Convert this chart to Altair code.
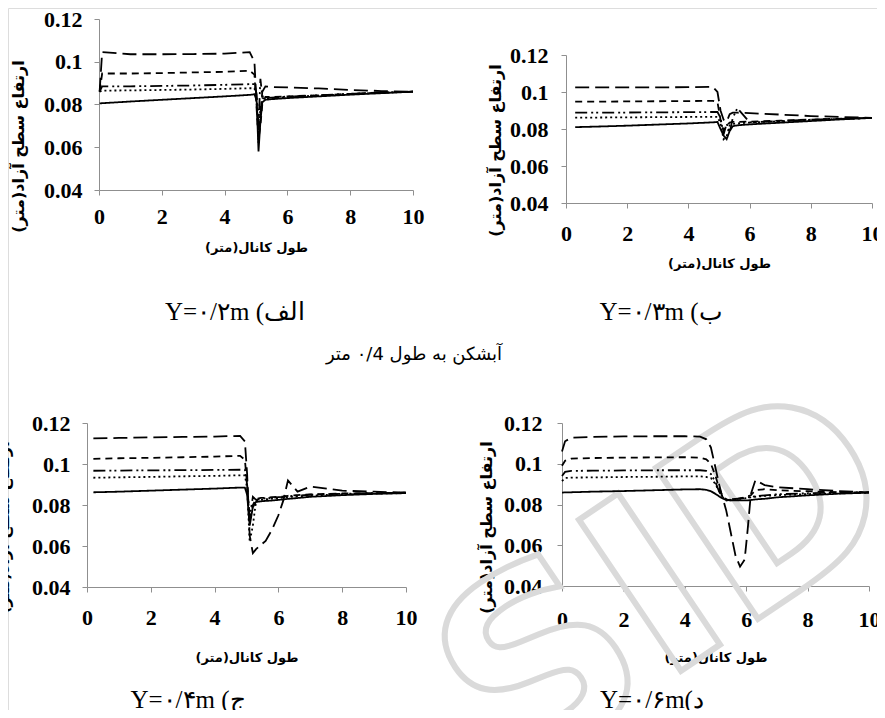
import altair as alt
import pandas as pd

SERIES = ["long_dash", "dash", "dash_dot_dot", "dotted", "solid"]
DASHES = [[14, 6], [7, 5], [12, 4, 2, 3, 2, 4], [2, 3], [1, 0]]
WIDTHS = [1.8, 1.8, 1.6, 2.6, 1.6]

X_TITLE = "طول کانال(متر)\u200f"
Y_TITLE = "ارتفاع سطح آزاد(متر)\u200f"
CAPTION_A = "Y=۰/۲m (الف"
CAPTION_B = "Y=۰/۳m (ب"
CAPTION_C = "Y=۰/۴m (ج"
CAPTION_D = "Y=۰/۶m(د"
CENTER_TEXT = "آبشکن به طول ۰/4 متر"
WATERMARK = "SID"

X_TICKS = [0, 2, 4, 6, 8, 10]
Y_TICKS = [0.04, 0.06, 0.08, 0.1, 0.12]

# ---------------- Panel A (Y = 0.2 m) ----------------
a_x = [0.02, 0.1, 1, 2, 3, 4, 4.8, 4.95, 5.02, 5.08, 5.14, 5.2, 5.3, 5.5, 6, 7, 8, 9, 10]
a_long = [0.086, 0.1045, 0.1035, 0.1035, 0.1036, 0.1038, 0.1045, 0.100, 0.080, 0.068, 0.075, 0.086, 0.0885, 0.0882, 0.0880, 0.0875, 0.0868, 0.0863, 0.0860]
a_dash = [0.086, 0.0945, 0.0945, 0.0947, 0.0950, 0.0953, 0.0958, 0.0940, 0.078, 0.064, 0.070, 0.080, 0.0835, 0.0835, 0.0838, 0.0843, 0.0850, 0.0856, 0.0860]
a_dashdot = [0.086, 0.0885, 0.0885, 0.0887, 0.0889, 0.0892, 0.0895, 0.0895, 0.085, 0.070, 0.092, 0.084, 0.0830, 0.0832, 0.0837, 0.0843, 0.0850, 0.0855, 0.0860]
a_dot = [0.086, 0.0865, 0.0866, 0.0868, 0.0870, 0.0873, 0.0876, 0.0876, 0.084, 0.062, 0.078, 0.083, 0.0828, 0.0830, 0.0835, 0.0842, 0.0849, 0.0855, 0.0860]
a_solid = [0.0805, 0.0806, 0.0814, 0.0822, 0.0830, 0.0838, 0.0845, 0.0848, 0.082, 0.058, 0.072, 0.081, 0.0822, 0.0825, 0.0830, 0.0838, 0.0846, 0.0853, 0.0860]

# ---------------- Panel B (Y = 0.3 m) ----------------
b_x = [0.3, 1, 2, 3, 4, 4.8, 4.95, 5.05, 5.15, 5.25, 5.35, 5.45, 5.6, 6, 7, 8, 9, 10]
b_long = [0.1025, 0.1025, 0.1025, 0.1025, 0.1026, 0.1028, 0.1000, 0.090, 0.085, 0.084, 0.088, 0.0888, 0.0888, 0.0886, 0.0878, 0.0870, 0.0865, 0.0860]
b_dash = [0.0948, 0.0948, 0.0949, 0.0950, 0.0951, 0.0952, 0.0945, 0.085, 0.079, 0.082, 0.0835, 0.0838, 0.0838, 0.0840, 0.0845, 0.0851, 0.0856, 0.0860]
b_dashdot = [0.0888, 0.0888, 0.0889, 0.0890, 0.0891, 0.0892, 0.0892, 0.086, 0.077, 0.083, 0.078, 0.086, 0.0913, 0.0836, 0.0843, 0.0850, 0.0855, 0.0860]
b_dot = [0.0862, 0.0862, 0.0863, 0.0864, 0.0865, 0.0866, 0.0866, 0.083, 0.0745, 0.076, 0.082, 0.0828, 0.0830, 0.0835, 0.0842, 0.0849, 0.0855, 0.0860]
b_solid = [0.0810, 0.0813, 0.0818, 0.0824, 0.0830, 0.0836, 0.0838, 0.080, 0.0765, 0.0745, 0.079, 0.0815, 0.0820, 0.0825, 0.0834, 0.0843, 0.0852, 0.0860]

# ---------------- Panel C (Y = 0.4 m) ----------------
c_x = [0.2, 1, 2, 3, 4, 4.8, 4.95, 5.02, 5.1, 5.2, 5.3, 5.45, 5.6, 5.8, 6.0, 6.15, 6.3, 6.6, 7, 8, 9, 10]
c_long = [0.1125, 0.1127, 0.1130, 0.1132, 0.1134, 0.1137, 0.1110, 0.095, 0.065, 0.0565, 0.0585, 0.0605, 0.0625, 0.068, 0.075, 0.082, 0.092, 0.0865, 0.0890, 0.0870, 0.0865, 0.0860]
c_dash = [0.1025, 0.1028, 0.1030, 0.1033, 0.1036, 0.1040, 0.1020, 0.090, 0.072, 0.080, 0.0830, 0.0835, 0.0835, 0.0838, 0.0840, 0.0842, 0.0845, 0.0848, 0.0852, 0.0856, 0.0858, 0.0860]
c_dashdot = [0.0967, 0.0968, 0.0969, 0.0970, 0.0971, 0.0972, 0.0972, 0.090, 0.074, 0.084, 0.0825, 0.0830, 0.0832, 0.0835, 0.0838, 0.0840, 0.0843, 0.0846, 0.0850, 0.0855, 0.0858, 0.0860]
c_dot = [0.0933, 0.0935, 0.0937, 0.0940, 0.0942, 0.0945, 0.0945, 0.088, 0.062, 0.070, 0.0820, 0.0825, 0.0828, 0.0831, 0.0834, 0.0836, 0.0839, 0.0842, 0.0846, 0.0852, 0.0856, 0.0858]
c_solid = [0.0862, 0.0865, 0.0870, 0.0875, 0.0880, 0.0885, 0.0885, 0.085, 0.070, 0.079, 0.0815, 0.0818, 0.0820, 0.0822, 0.0825, 0.0827, 0.0830, 0.0834, 0.0840, 0.0848, 0.0854, 0.0858]

# ---------------- Panel D (Y = 0.6 m) ----------------
d_x = [0, 0.1, 0.3, 1, 2, 3, 4, 4.5, 4.7, 4.85, 5.0, 5.1, 5.2, 5.35, 5.5, 5.65, 5.8, 5.95, 6.05, 6.15, 6.3, 6.6, 7, 8, 9, 10]
d_long = [0.106, 0.111, 0.1128, 0.1132, 0.1134, 0.1135, 0.1135, 0.1133, 0.1120, 0.1080, 0.098, 0.091, 0.085, 0.077, 0.066, 0.055, 0.0495, 0.053, 0.068, 0.085, 0.092, 0.0895, 0.0885, 0.0875, 0.0866, 0.0860]
d_dash = [0.099, 0.1015, 0.1025, 0.1028, 0.1030, 0.1031, 0.1032, 0.1030, 0.1022, 0.1000, 0.094, 0.089, 0.085, 0.0825, 0.0820, 0.0825, 0.0830, 0.0835, 0.0840, 0.0845, 0.0870, 0.0875, 0.0870, 0.0865, 0.0860, 0.0860]
d_dashdot = [0.094, 0.0960, 0.0965, 0.0966, 0.0967, 0.0968, 0.0968, 0.0968, 0.0965, 0.0950, 0.091, 0.087, 0.084, 0.0820, 0.0825, 0.0828, 0.0830, 0.0832, 0.0835, 0.0838, 0.0840, 0.0845, 0.0850, 0.0855, 0.0858, 0.0860]
d_dot = [0.0915, 0.0930, 0.0932, 0.0933, 0.0935, 0.0936, 0.0938, 0.0938, 0.0935, 0.0930, 0.090, 0.087, 0.0845, 0.0825, 0.0823, 0.0825, 0.0828, 0.0830, 0.0832, 0.0835, 0.0838, 0.0842, 0.0846, 0.0851, 0.0855, 0.0858]
d_solid = [0.0858, 0.0860, 0.0860, 0.0863, 0.0866, 0.0870, 0.0874, 0.0875, 0.0872, 0.0865, 0.0852, 0.0842, 0.0832, 0.0822, 0.0820, 0.0820, 0.0820, 0.0820, 0.0820, 0.0822, 0.0825, 0.0828, 0.0835, 0.0845, 0.0853, 0.0858]


def long_table(xs, ys_list):
    rows = []
    for name, ys in zip(SERIES, ys_list):
        for xv, yv in zip(xs, ys):
            rows.append({"x": xv, "y": yv, "s": name})
    return pd.DataFrame(rows)


TOTAL_W, TOTAL_H = 869, 702
SERIF = "Liberation Serif, Times New Roman, Times, serif"
ARABIC = "DejaVu Sans, sans-serif"


def panel(df, xr, yr, x_lab_pad, x_title_pad, y_lab_pad, y_title_pad, y_title_y):
    x_axis = alt.Axis(
        values=X_TICKS, orient="bottom", offset=yr[0] - TOTAL_H, title=X_TITLE,
        grid=False, tickSize=5, labelPadding=x_lab_pad, titlePadding=x_title_pad,
        labelFont=SERIF, labelFontWeight="bold", labelFontSize=22, labelColor="black",
        titleFont=ARABIC, titleFontWeight="bold", titleFontSize=13, titleColor="black",
        domainColor="#8f8f8f", tickColor="#8f8f8f", labelFlush=False, labelOverlap=False,
    )
    y_axis = alt.Axis(
        values=Y_TICKS, orient="left", offset=-xr[0], title=Y_TITLE, format=".2~f",
        grid=False, tickSize=5, labelPadding=y_lab_pad, titlePadding=y_title_pad,
        titleY=y_title_y,
        labelFont=SERIF, labelFontWeight="bold", labelFontSize=22, labelColor="black",
        titleFont=ARABIC, titleFontWeight="bold", titleFontSize=16, titleColor="black",
        domainColor="#8f8f8f", tickColor="#8f8f8f", labelFlush=False, labelOverlap=False,
    )
    return alt.Chart(df).mark_line(color="black", strokeCap="butt").encode(
        x=alt.X("x:Q", scale=alt.Scale(domain=[0, 10], range=xr, nice=False, zero=False), axis=x_axis),
        y=alt.Y("y:Q", scale=alt.Scale(domain=[0.04, 0.12], range=yr, nice=False, zero=False), axis=y_axis),
        strokeDash=alt.StrokeDash("s:N", scale=alt.Scale(domain=SERIES, range=DASHES), legend=None),
        strokeWidth=alt.StrokeWidth("s:O", scale=alt.Scale(domain=SERIES, range=WIDTHS), legend=None),
        order=alt.Order("x:Q"),
    )


def caption(text, px, py, font, size, weight="normal"):
    return alt.Chart(pd.DataFrame({"t": [text]})).mark_text(
        font=font, fontSize=size, fontWeight=weight, color="black", align="center", baseline="middle"
    ).encode(text="t:N", x=alt.value(px), y=alt.value(py))


watermark = alt.Chart(pd.DataFrame({"t": [WATERMARK]})).mark_text(
    font="DejaVu Sans, sans-serif", fontSize=250, fontWeight="bold", fill="white", fillOpacity=0,
    stroke="#dadada", strokeWidth=6, angle=326, align="center", baseline="middle"
).encode(text="t:N", x=alt.value(662), y=alt.value(580))

pA = panel(long_table(a_x, [a_long, a_dash, a_dashdot, a_dot, a_solid]),
           [91, 405], [182, 11], 11, 14, 12, 17, 138)
pB = panel(long_table(b_x, [b_long, b_dash, b_dashdot, b_dot, b_solid]),
           [558, 864], [195, 47], 15, 13, 13, 6, 142)
pC = panel(long_table(c_x, [c_long, c_dash, c_dashdot, c_dot, c_solid]),
           [79, 398], [579, 415], 15, 23, 12, 20, 519)
pD = panel(long_table(d_x, [d_long, d_dash, d_dashdot, d_dot, d_solid]),
           [554, 861], [578, 415], 18, 21, 15, 9, 519)

texts = [
    caption(CAPTION_A, 227, 304, SERIF, 25),
    caption(CAPTION_B, 653, 304, SERIF, 25),
    caption(CENTER_TEXT, 406, 347, ARABIC, 18),
    caption(CAPTION_C, 180, 692, SERIF, 25),
    caption(CAPTION_D, 644, 692, SERIF, 25),
]

chart = alt.layer(watermark, pA, pB, pC, pD, *texts).resolve_scale(
    x="independent", y="independent"
).properties(
    width=TOTAL_W, height=TOTAL_H, autosize=alt.AutoSizeParams(type="none"), padding=0
).configure_view(stroke=None).configure(background="white")

chart.save("out.html", embed_options={"renderer": "svg", "actions": False})
